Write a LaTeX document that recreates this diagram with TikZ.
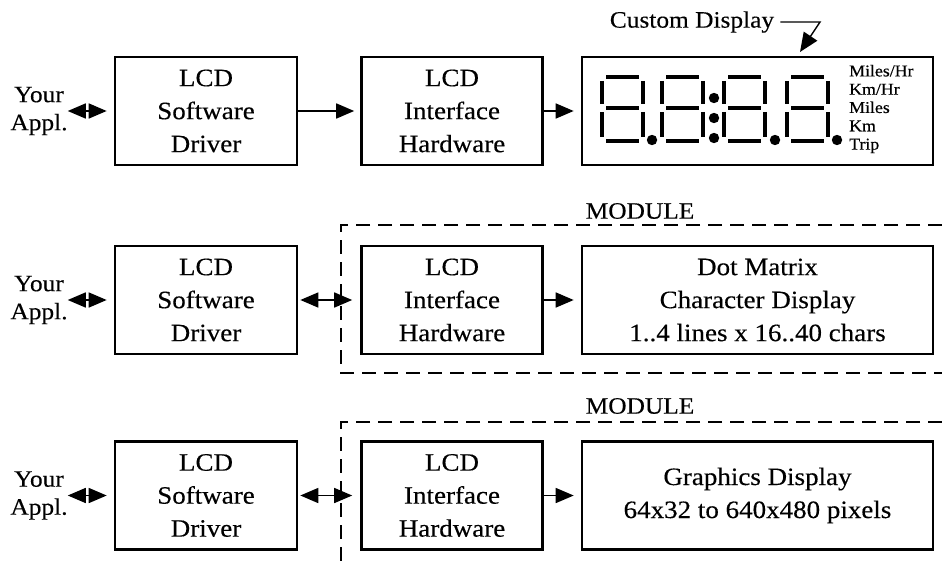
\documentclass[tikz,border=0pt]{standalone}
\usepackage{fontspec}
\setmainfont{Liberation Serif}[FakeStretch=1.08,FakeBold=0.3]
\usetikzlibrary{arrows.meta}
\begin{document}
\begin{tikzpicture}[x=1pt,y=-1pt,
  box/.style={draw, line width=2.6pt, inner sep=0pt, align=center, font=\fontsize{25}{33}\selectfont},
  boxa/.style={box, minimum width=182pt, minimum height=108pt},
  boxb/.style={box, minimum width=181pt, minimum height=108pt},
  boxc/.style={box, minimum width=351pt, minimum height=108pt},
  tip/.tip={Triangle[length=18pt 0 1,width=15pt 0 1]},
  conn/.style={line width=1.5pt, -tip},
  dconn/.style={line width=1.5pt, tip-tip},
  appl/.style={align=center, inner sep=0pt, font=\fontsize{23.5}{28}\selectfont},
  seg/.style={line width=3.8pt},
  dotseg/.style={fill=black},
  dashbox/.style={line width=1.3pt, dash pattern=on 14pt off 8pt},
  lbl/.style={inner sep=0pt, font=\fontsize{23.5}{28}\selectfont},
  units/.style={anchor=west, align=left, inner sep=0pt, font=\fontsize{16.5}{18.3}\selectfont}]
\useasboundingbox (0,0) rectangle (942,567);

% ---------- Row 1 ----------
\node[appl] (y1) at (39,111) {Your\\Appl.};
\node[boxa] (a1) at (206,111) {LCD\\Software\\Driver};
\node[boxb] (b1) at (452,111) {LCD\\Interface\\Hardware};
\node[boxc] (c1) at (757.5,111) {};
\draw[dconn, shorten >=7pt] (y1.east) -- (a1.west);
\draw[conn, shorten >=6pt] (a1) -- (b1);
\draw[conn, shorten >=7pt] (b1) -- (c1);

\node[lbl] (cd) at (692,22) {Custom Display};
\coordinate (cdk) at (820,22);
\coordinate (cdt) at (800,52);
\draw[line width=1.4pt, -{Triangle[length=19pt 0 1,width=16pt 0 1]}] ([xshift=6pt]cd.east) -- (cdk) -- (cdt);

% seven-segment digits
\foreach \xo in {602,662,724,787}{
  \draw[seg] (\xo+4,77) -- (\xo+37,77);
  \draw[seg] (\xo+4,108) -- (\xo+37,108);
  \draw[seg] (\xo+4,141) -- (\xo+37,141);
  \draw[seg] (\xo,81) -- (\xo,104);
  \draw[seg] (\xo+41,81) -- (\xo+41,104);
  \draw[seg] (\xo,112) -- (\xo,137);
  \draw[seg] (\xo+41,112) -- (\xo+41,137);
}
\foreach \dx/\dy in {652/140,775/140,837/140,714/98,714/118,714/138}{
  \fill[dotseg] (\dx,\dy) circle (5.2pt);
}
\node[units] (u1) at (849,109) {Miles/Hr\\Km/Hr\\Miles\\Km\\Trip};

% ---------- Row 2 ----------
\node[lbl] (m2) at (640,211) {MODULE};
\draw[dashbox] (942,225) -- (341,225) -- (341,373) -- (942,373);
\node[appl] (y2) at (39,300) {Your\\Appl.};
\node[boxa] (a2) at (206,300) {LCD\\Software\\Driver};
\node[boxb] (b2) at (452,300) {LCD\\Interface\\Hardware};
\node[boxc] (c2) at (757.5,300) {Dot Matrix\\Character Display\\1..4 lines x 16..40 chars};
\draw[dconn, shorten >=7pt] (y2.east) -- (a2.west);
\draw[dconn, shorten <=2pt, shorten >=8pt] (a2) -- (b2);
\draw[conn, shorten >=7pt] (b2) -- (c2);

% ---------- Row 3 ----------
\node[lbl] (m3) at (640,406) {MODULE};
\draw[dashbox] (942,422) -- (341,422) -- (341,567);
\node[appl] (y3) at (39,495.5) {Your\\Appl.};
\node[boxa] (a3) at (206,495.5) {LCD\\Software\\Driver};
\node[boxb] (b3) at (452,495.5) {LCD\\Interface\\Hardware};
\node[boxc] (c3) at (757.5,495.5) {Graphics Display\\64x32 to 640x480 pixels};
\draw[dconn, shorten >=7pt] (y3.east) -- (a3.west);
\draw[dconn, shorten <=2pt, shorten >=8pt] (a3) -- (b3);
\draw[conn, shorten >=7pt] (b3) -- (c3);
\end{tikzpicture}
\end{document}
